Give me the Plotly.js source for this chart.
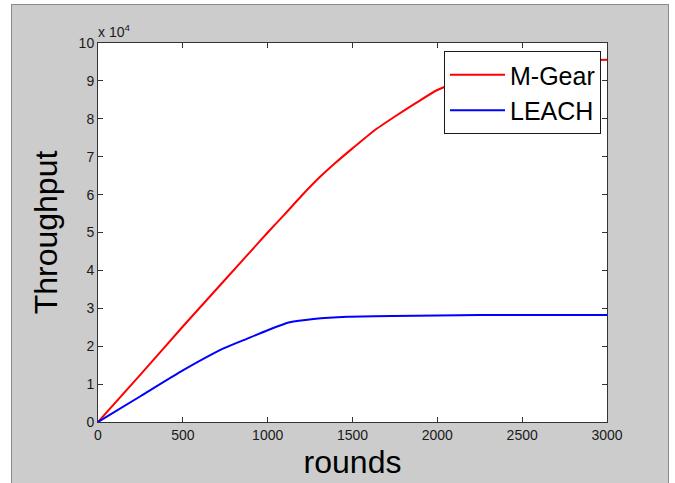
<!DOCTYPE html>
<html>
<head>
<meta charset="utf-8">
<script src="https://cdn.plot.ly/plotly-3.0.1.min.js"></script>
<style>html,body{margin:0;padding:0;background:#fff;}#chart{width:675px;height:483px;}</style>
</head>
<body>
<div id="chart"></div>
<script>
// Data (throughput values)
const mgearRounds = [0, 250, 500, 750, 1000, 1100, 1200, 1300, 1400, 1500, 1625, 1750, 1875, 2000, 2250, 2500, 2750, 3000];
const mgearThroughput = [0, 12500, 25200, 37600, 50000, 54800, 59700, 64300, 68400, 72200, 76800, 80600, 84200, 87600, 91800, 94000, 95100, 95600];
const leachRounds = [0, 250, 500, 740, 880, 1000, 1130, 1270, 1470, 1740, 2250, 3000];
const leachThroughput = [0, 6800, 13600, 19400, 22000, 24200, 26300, 27200, 27800, 28000, 28200, 28200];
const seriesNames = ["M-Gear", "LEACH"];
const xTickVals = [0, 500, 1000, 1500, 2000, 2500, 3000];
const yTickVals = [0, 10000, 20000, 30000, 40000, 50000, 60000, 70000, 80000, 90000, 100000];
const yTickText = ["0", "1", "2", "3", "4", "5", "6", "7", "8", "9", "10"];

const FONT = "Liberation Sans, Arial, sans-serif";
const L = 98, R = 607, T = 43, B = 422;
const px = v => (v - L) / (R - L);
const py = v => (B - v) / (B - T);

const traces = [
  {x: mgearRounds, y: mgearThroughput, name: seriesNames[0], type: "scatter", mode: "lines",
   line: {color: "#ff0000", width: 2, shape: "spline", smoothing: 0.5}},
  {x: leachRounds, y: leachThroughput, name: seriesNames[1], type: "scatter", mode: "lines",
   line: {color: "#0000ff", width: 2, shape: "spline", smoothing: 0.5}}
];

const axisCommon = {
  showgrid: false, zeroline: false, showline: true, linecolor: "#333333", linewidth: 1,
  mirror: "ticks", ticks: "inside", ticklen: 5, tickcolor: "#333333", tickwidth: 1,
  tickfont: {family: FONT, size: 14, color: "#1a1a1a"}
};

const layout = {
  width: 675, height: 483,
  paper_bgcolor: "#cccccc", plot_bgcolor: "#ffffff",
  margin: {l: L, r: 675 - R, t: T, b: 483 - B, pad: 0},
  showlegend: true,
  legend: {x: px(601), xanchor: "right", y: py(51), yanchor: "top",
    bgcolor: "#ffffff", bordercolor: "#1a1a1a", borderwidth: 1, itemwidth: 55,
    font: {family: FONT, size: 25, color: "#000000"}},
  xaxis: Object.assign({}, axisCommon, {range: [0, 3000], tickvals: xTickVals,
    title: {text: "rounds", font: {family: FONT, size: 32, color: "#000000"}, standoff: 8}}),
  yaxis: Object.assign({}, axisCommon, {range: [0, 100000], tickvals: yTickVals, ticktext: yTickText,
    title: {text: "Throughput", font: {family: FONT, size: 32, color: "#000000"}, standoff: 11}}),
  annotations: [{xref: "paper", yref: "paper", x: px(96), y: py(42), xanchor: "left", yanchor: "bottom",
    text: "x 10<sup>4</sup>", showarrow: false, font: {family: FONT, size: 14, color: "#1a1a1a"}}],
  shapes: [
    {type: "rect", xref: "paper", yref: "paper", x0: px(0), x1: px(11), y0: py(520), y1: py(0), fillcolor: "#ffffff", line: {width: 0}},
    {type: "rect", xref: "paper", yref: "paper", x0: px(0), x1: px(675), y0: py(4), y1: py(0), fillcolor: "#ffffff", line: {width: 0}},
    {type: "rect", xref: "paper", yref: "paper", x0: px(669), x1: px(675), y0: py(520), y1: py(0), fillcolor: "#ffffff", line: {width: 0}},
    {type: "rect", xref: "paper", yref: "paper", x0: px(11.5), x1: px(668.5), y0: py(520), y1: py(4.5), fillcolor: "rgba(0,0,0,0)", line: {width: 1, color: "#8a8a8a"}}
  ]
};

Plotly.newPlot("chart", traces, layout, {displayModeBar: false, staticPlot: true});
</script>
</body>
</html>
